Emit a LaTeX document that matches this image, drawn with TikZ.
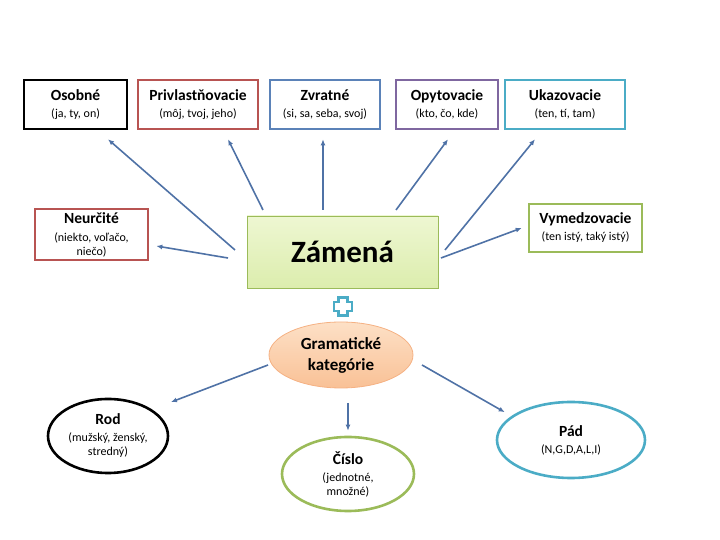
\documentclass[tikz,border=0pt]{standalone}
\usepackage{fontspec}
\setmainfont{Carlito}
\usepackage{tikz}
\usetikzlibrary{arrows.meta,calc,shapes.geometric}
\usepackage{xcolor}

\definecolor{arrowblue}{HTML}{4F72A6}
\definecolor{accred}{HTML}{B85452}
\definecolor{accblue}{HTML}{5B82B8}
\definecolor{accpurple}{HTML}{7F67A0}
\definecolor{accteal}{HTML}{4BACC6}
\definecolor{accgreen}{HTML}{9BBB59}
\definecolor{orangeline}{HTML}{F5B183}
\definecolor{greentop}{HTML}{EEF7D2}
\definecolor{greenbot}{HTML}{DCEDAD}
\definecolor{peachtop}{HTML}{FDE0C6}
\definecolor{peachbot}{HTML}{F9C196}

\tikzset{
	kind/.style={draw,line width=2.6pt,minimum height=49pt,inner sep=2pt,align=center,
		font=\fontsize{12}{16}\selectfont},
	catg/.style={ellipse,draw,line width=2.6pt,inner sep=1pt,align=center,
		font=\fontsize{12}{16}\selectfont},
	arr/.style={draw=arrowblue,line width=1.6pt,-{Latex[length=6pt,width=5pt]}},
}
\newcommand{\ttl}[1]{{\fontsize{15.5}{16}\selectfont\bfseries #1}}
\newcommand{\sbt}[1]{{\fontsize{12}{16}\selectfont #1}}

\begin{document}
\begin{tikzpicture}[x=1pt,y=1pt]
		
		\useasboundingbox (0,0) rectangle (720,540);
		
		%----------------------------------------
		% Kinds of pronouns, top row
		%----------------------------------------
		\node[kind,draw=black,minimum width=103pt] (osobne) at (75.5,435.5)
		{\ttl{Osobné}\\[1pt]\sbt{(ja, ty, on)}};
		\node[kind,draw=accred,minimum width=120pt] (privl) at (198,435.5)
		{\ttl{Privlastňovacie}\\[1pt]\sbt{(môj, tvoj, jeho)}};
		\node[kind,draw=accblue,minimum width=110pt] (zvratne) at (325,435.5)
		{\ttl{Zvratné}\\[1pt]\sbt{(si, sa, seba, svoj)}};
		\node[kind,draw=accpurple,minimum width=102pt] (opyt) at (447,435.5)
		{\ttl{Opytovacie}\\[1pt]\sbt{(kto, čo, kde)}};
		\node[kind,draw=accteal,minimum width=120pt] (ukaz) at (565,435.5)
		{\ttl{Ukazovacie}\\[1pt]\sbt{(ten, tí, tam)}};
		
		%----------------------------------------
		% Kinds of pronouns, middle row
		%----------------------------------------
		\node[kind,draw=accred,minimum width=113pt,minimum height=51pt] (neurc) at (91.5,305.5)
		{\ttl{Neurčité}\\[2pt]\sbt{(niekto, voľačo,}\\[-2pt]\sbt{niečo)}};
		\node[kind,draw=accgreen,minimum width=113pt,minimum height=48pt] (vymedz) at (585.5,312)
		{\ttl{Vymedzovacie}\\[1pt]\sbt{(ten istý, taký istý)}};
		
		%----------------------------------------
		% Centre
		%----------------------------------------
		\node[draw=accgreen,line width=0.8pt,top color=greentop,bottom color=greenbot,
		minimum width=191pt,minimum height=72pt] (zamena) at (342.5,288)
		{\fontsize{31}{34}\selectfont\bfseries Zámená};
		
		% plus sign
		\coordinate (P) at (343,233.5);
		\draw[accteal,line width=2.2pt,fill=white,line join=miter]
		($(P)+(-4.5,9)$) -- ($(P)+(4.5,9)$) -- ($(P)+(4.5,4.5)$) -- ($(P)+(9,4.5)$)
		-- ($(P)+(9,-4.5)$) -- ($(P)+(4.5,-4.5)$) -- ($(P)+(4.5,-9)$) -- ($(P)+(-4.5,-9)$)
		-- ($(P)+(-4.5,-4.5)$) -- ($(P)+(-9,-4.5)$) -- ($(P)+(-9,4.5)$) -- ($(P)+(-4.5,4.5)$) -- cycle;
		
		\node[ellipse,draw=orangeline,line width=0.8pt,top color=peachtop,bottom color=peachbot,
		minimum width=144pt,minimum height=66pt,align=center,inner sep=1pt,
		font=\fontsize{17}{21}\selectfont\bfseries] (gram) at (341,185)
		{Gramatické\\kategórie};
		
		%----------------------------------------
		% Grammatical categories
		%----------------------------------------
		\node[catg,draw=black,minimum width=120pt,minimum height=74pt] (rod) at (108,104)
		{\ttl{Rod}\\[1pt]\sbt{(mužský, ženský,}\\[-2pt]\sbt{stredný)}};
		\node[catg,draw=accgreen,minimum width=132pt,minimum height=74pt] (cislo) at (348,66)
		{\ttl{Číslo}\\[1pt]\sbt{(jednotné,}\\[-2pt]\sbt{množné)}};
		\node[catg,draw=accteal,minimum width=148pt,minimum height=76pt] (pad) at (571,100)
		{\ttl{Pád}\\[1pt]\sbt{(N,G,D,A,L,I)}};
		
		%----------------------------------------
		% Free ends of the arrows
		%----------------------------------------
		\coordinate (s1) at (235,290);
		\coordinate (s2) at (263,330);
		\coordinate (s3) at (323,330);
		\coordinate (s4) at (396,330);
		\coordinate (s5) at (445,290);
		\coordinate (s6) at (441,282);
		\coordinate (s7) at (228,282);
		\coordinate (s8) at (268,175);
		\coordinate (s9) at (348,137);
		\coordinate (s10) at (422,175);
		
		%----------------------------------------
		% Arrows
		%----------------------------------------
		\draw[arr] (s1) -- ([xshift=32.5pt,yshift=-9pt]osobne.south);
		\draw[arr] (s2) -- ([xshift=30pt,yshift=-9pt]privl.south);
		\draw[arr] (s3) -- ([xshift=-2pt,yshift=-9pt]zvratne.south);
		\draw[arr] (s4) -- ([xshift=1pt,yshift=-9pt]opyt.south);
		\draw[arr] (s5) -- ([xshift=-30pt,yshift=-9pt]ukaz.south);
		\draw[arr] (s6) -- ([xshift=-6pt]vymedz.west);
		\draw[arr] (s7) -- ([xshift=7pt,yshift=-11.5pt]neurc.east);
		\draw[arr] (s8) -- ([xshift=19.6pt,yshift=6.8pt]rod.north east);
		\draw[arr] (s9) -- ([yshift=5pt]cislo.north);
		\draw[arr] (s10) -- ([xshift=-13pt]pad.north west);
		
	\end{tikzpicture}
\end{document}
